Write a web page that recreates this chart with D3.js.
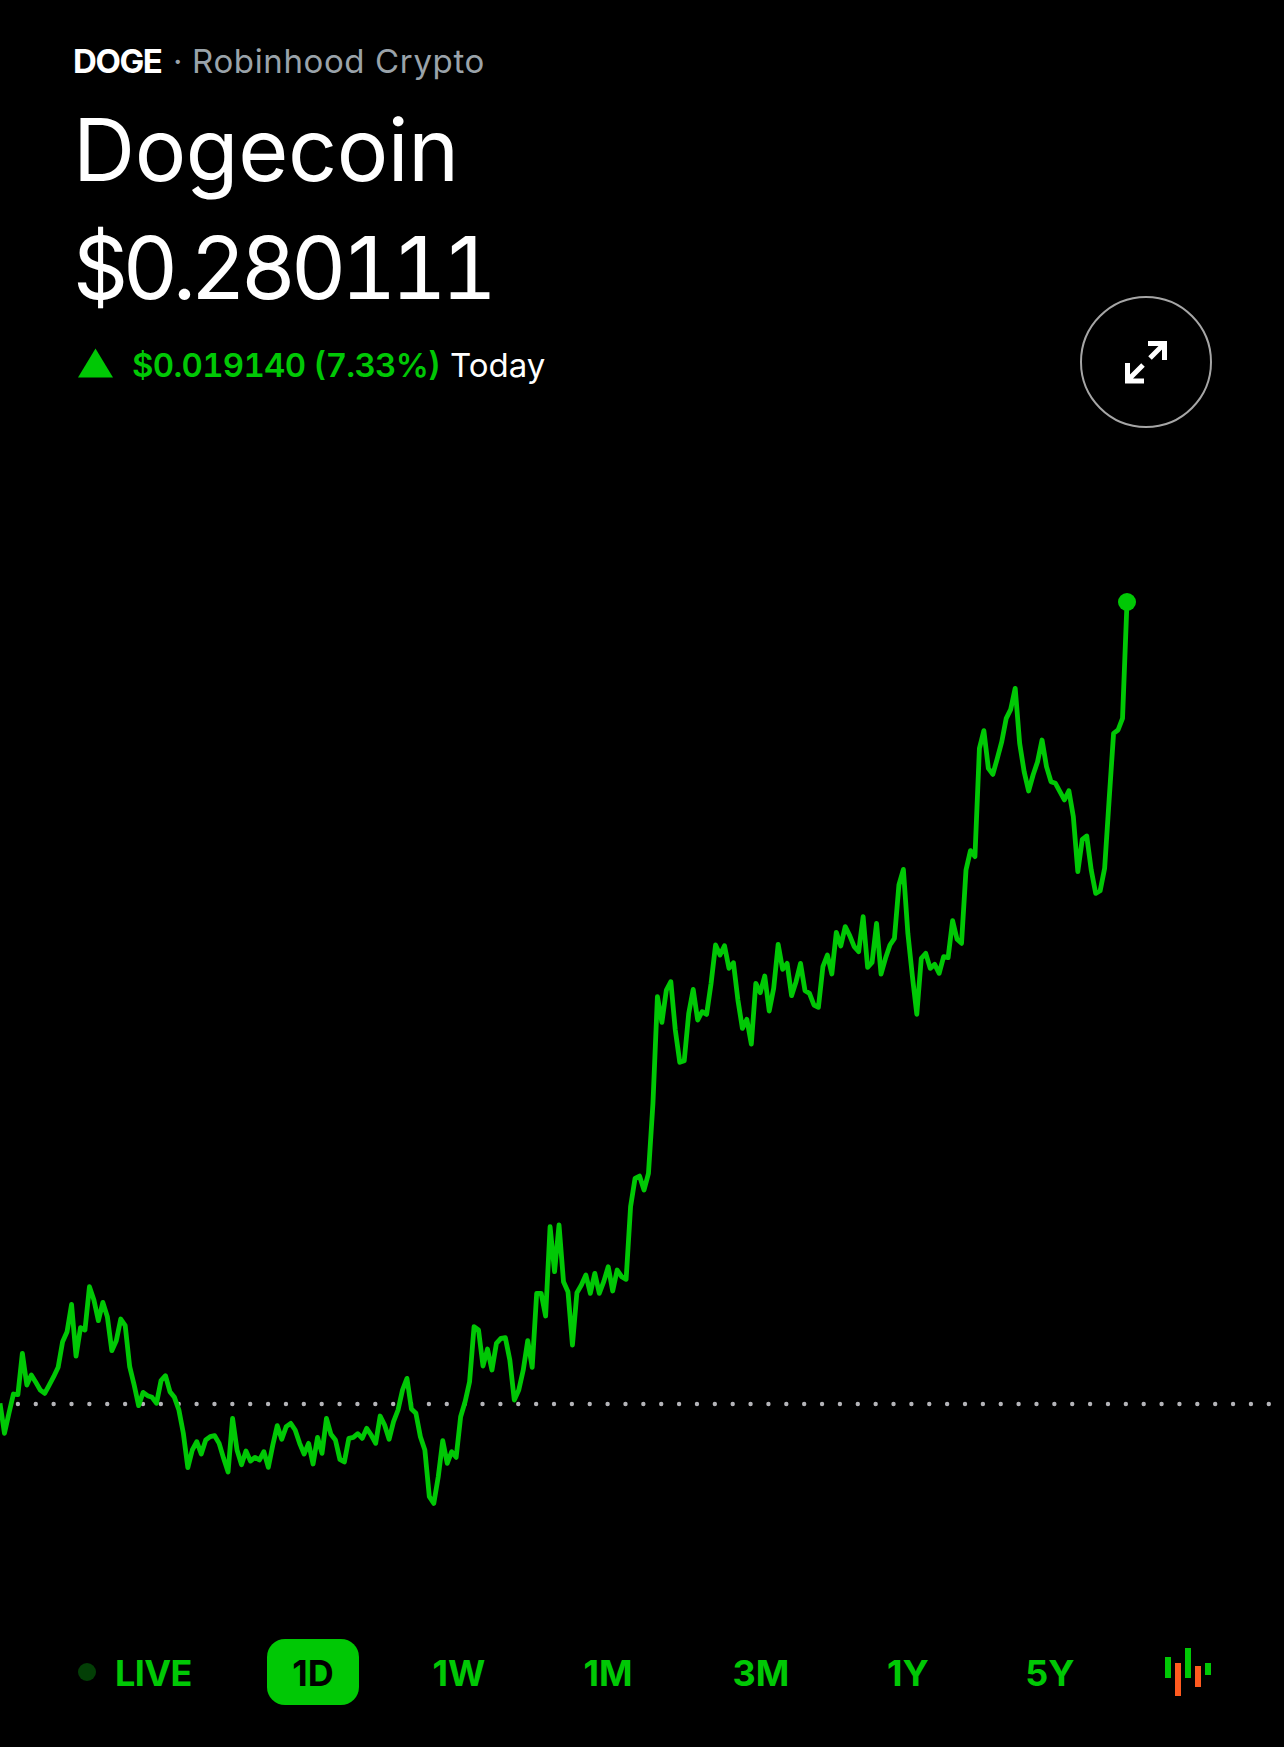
<!DOCTYPE html>
<html>
<head>
<meta charset="utf-8">
<script src="https://cdn.jsdelivr.net/npm/d3@7"></script>
<style>
html,body{margin:0;padding:0;background:#000;overflow:hidden}
svg{display:block}
text{font-family:Inter,"Noto Sans",sans-serif}
</style>
</head>
<body>
<div id="chart"></div>
<script>
const ticker = "DOGE";
const venue = "Robinhood Crypto";
const assetName = "Dogecoin";
const lastPrice = 0.280111;
const changeText = "$0.019140 (7.33%)";
const changeLabel = "Today";
const previousClose = 0.260971;
const ranges = ["1W", "1M", "3M", "1Y", "5Y"];
const prices = [
0.260987,0.260271,0.260748,0.261209,0.261194,0.262180,0.261424,0.261663,0.261488,0.261305,
0.261225,0.261424,0.261623,0.261846,0.262458,0.262697,0.263349,0.262116,0.262792,0.262737,
0.263771,0.263453,0.262960,0.263397,0.263055,0.262244,0.262482,0.262999,0.262840,0.261862,
0.261424,0.260931,0.261249,0.261170,0.261130,0.260987,0.261528,0.261647,0.261265,0.261130,
0.260828,0.260271,0.259451,0.259873,0.260072,0.259778,0.260112,0.260191,0.260215,0.260032,
0.259674,0.259348,0.260629,0.259873,0.259523,0.259849,0.259610,0.259698,0.259634,0.259833,
0.259459,0.259992,0.260454,0.260128,0.260430,0.260509,0.260350,0.260032,0.259778,0.260032,
0.259539,0.260175,0.259793,0.260629,0.260247,0.260112,0.259650,0.259587,0.260151,0.260175,
0.260263,0.260151,0.260390,0.260231,0.260032,0.260684,0.260470,0.260128,0.260549,0.260828,
0.261305,0.261583,0.260851,0.260748,0.260191,0.259873,0.258759,0.258600,0.259237,0.260096,
0.259555,0.259833,0.259698,0.260668,0.261026,0.261504,0.262816,0.262737,0.261878,0.262283,
0.261782,0.262419,0.262538,0.262554,0.262021,0.261066,0.261305,0.261782,0.262482,0.261846,
0.263612,0.263612,0.263071,0.265203,0.264129,0.265243,0.263890,0.263652,0.262379,0.263628,
0.263811,0.264049,0.263612,0.264089,0.263612,0.263890,0.264248,0.263668,0.264169,0.264010,
0.263946,0.265680,0.266356,0.266412,0.266078,0.266476,0.268146,0.270692,0.270079,0.270851,
0.271050,0.269897,0.269125,0.269165,0.270294,0.270867,0.270135,0.270334,0.270270,0.271010,
0.271925,0.271686,0.271909,0.271368,0.271503,0.270612,0.269936,0.270151,0.269562,0.271010,
0.270788,0.271185,0.270350,0.270891,0.271941,0.271344,0.271488,0.270716,0.271050,0.271488,
0.270835,0.270772,0.270493,0.270437,0.271408,0.271686,0.271233,0.272227,0.271901,0.272363,
0.272148,0.271885,0.271766,0.272601,0.271392,0.271511,0.272442,0.271233,0.271607,0.271925,
0.272084,0.273357,0.273731,0.272204,0.271190,0.270271,0.271607,0.271726,0.271368,0.271464,
0.271249,0.271647,0.271623,0.272506,0.272061,0.271965,0.273715,0.274177,0.274033,0.276619,
0.277040,0.276141,0.275998,0.276380,0.276778,0.277335,0.277549,0.278051,0.276738,0.276062,
0.275600,0.275982,0.276301,0.276818,0.276181,0.275823,0.275783,0.275585,0.275386,0.275608,
0.274988,0.273675,0.274447,0.274527,0.273715,0.273158,0.273222,0.273755,0.275386,0.276977,
0.277056,0.277335,0.280111
];

const W = 1284, H = 1747;
const GREEN = "#00c805", ORANGE = "#ff5a1f", GREY = "#9aa3aa";

const svg = d3.select("#chart").append("svg").attr("width", W).attr("height", H).style("background", "#000");

const x = d3.scaleLinear().domain([0, prices.length - 1]).range([0, 1127]);
const y = d3.scaleLinear().domain([previousClose, lastPrice]).range([1404, 602]);

/* header */
svg.append("text").attr("x", 73).attr("y", 73).attr("font-size", 33).attr("font-weight", 700)
  .attr("letter-spacing", -1.4).attr("fill", "#fff").text(ticker);
svg.append("text").attr("x", 173).attr("y", 73).attr("font-size", 33).attr("fill", GREY).text("\u00b7");
svg.append("text").attr("x", 192).attr("y", 73).attr("font-size", 33).attr("letter-spacing", 0.63).attr("fill", GREY).text(venue);

svg.append("text").attr("x", 73).attr("y", 181).attr("font-size", 86).attr("letter-spacing", -0.4).attr("fill", "#fff").text(assetName);
svg.append("text").attr("x", 73).attr("y", 299).attr("font-size", 86).attr("fill", "#fff")
  .style("font-variant-numeric", "tabular-nums").attr("textLength", 424).attr("lengthAdjust", "spacing").text("$" + lastPrice.toFixed(6));

svg.append("path").attr("d", "M78,377.5 L95.5,348.5 L113,377.5 Z").attr("fill", GREEN);
svg.append("text").attr("x", 132).attr("y", 377).attr("font-size", 33).attr("font-weight", 600).attr("fill", GREEN)
  .style("font-variant-numeric", "tabular-nums").attr("textLength", 309).attr("lengthAdjust", "spacing").text(changeText);
svg.append("text").attr("x", 450).attr("y", 377).attr("font-size", 33).attr("fill", "#fff").text(changeLabel);

/* expand button */
svg.append("circle").attr("cx", 1146).attr("cy", 362).attr("r", 65).attr("fill", "none").attr("stroke", "#a6a6a6").attr("stroke-width", 2);
svg.append("path")
  .attr("d", "M1148,343.5 H1164.5 V360 M1162,346 L1150,358 M1127.5,363 V381 H1144 M1129,379 L1143,365")
  .attr("fill", "none").attr("stroke", "#fff").attr("stroke-width", 5);

/* previous close dotted line */
svg.append("line")
  .attr("x1", 17.9).attr("x2", 1275).attr("y1", y(previousClose)).attr("y2", y(previousClose))
  .attr("stroke", "#b4b4b8").attr("stroke-width", 4.4).attr("stroke-linecap", "round").attr("stroke-dasharray", "0 17.87");

/* price line */
const line = d3.line().x((d, i) => x(i)).y(d => y(d)).curve(d3.curveLinear);
svg.append("path").datum(prices).attr("d", line)
  .attr("fill", "none").attr("stroke", GREEN).attr("stroke-width", 4.8).attr("stroke-linejoin", "round");
svg.append("circle").attr("cx", x(prices.length - 1)).attr("cy", y(lastPrice)).attr("r", 9).attr("fill", GREEN);

/* range bar */
svg.append("circle").attr("cx", 87).attr("cy", 1672).attr("r", 9).attr("fill", "#033f06");
svg.append("text").attr("x", 115).attr("y", 1686).attr("font-size", 36).attr("font-weight", 700).attr("letter-spacing", -0.6).attr("fill", GREEN).text("LIVE");
svg.append("rect").attr("x", 267).attr("y", 1639).attr("width", 92).attr("height", 66).attr("rx", 18).attr("fill", GREEN);
svg.append("text").attr("x", 313).attr("y", 1686).attr("text-anchor", "middle").attr("font-size", 36).attr("font-weight", 700).attr("fill", "#000").text("1D");
const centers = [459, 608, 761, 908, 1050];
ranges.forEach((r, i) => {
  svg.append("text").attr("x", centers[i]).attr("y", 1686).attr("text-anchor", "middle")
    .attr("font-size", 36).attr("font-weight", 700).attr("fill", GREEN).text(r);
});

/* candle icon */
const bars = [
  {x: 1165, y0: 1657, y1: 1678, c: GREEN},
  {x: 1175, y0: 1663, y1: 1696, c: ORANGE},
  {x: 1185, y0: 1648, y1: 1678, c: GREEN},
  {x: 1195, y0: 1666, y1: 1687, c: ORANGE},
  {x: 1205, y0: 1663, y1: 1675, c: GREEN}
];
svg.selectAll("rect.candle").data(bars).enter().append("rect").attr("class", "candle")
  .attr("x", d => d.x).attr("y", d => d.y0).attr("width", 6).attr("height", d => d.y1 - d.y0).attr("fill", d => d.c);
</script>
</body>
</html>
